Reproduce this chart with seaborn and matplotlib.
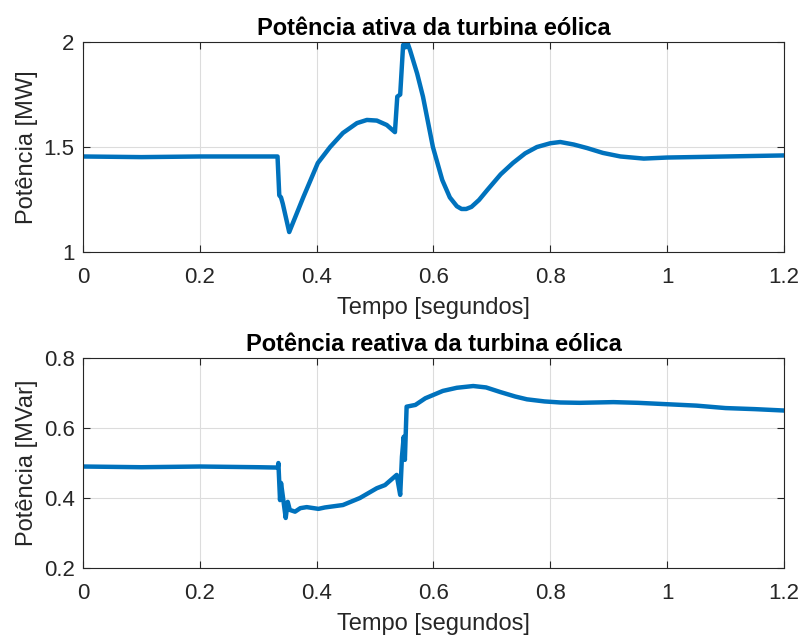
import numpy as np
import pandas as pd
import seaborn as sns
from matplotlib import pyplot as plt

# Potência ativa [MW]
t_ativa = [0, 0.1, 0.2, 0.3, 0.333, 0.336, 0.339, 0.342, 0.353, 0.377, 0.402, 0.423,
           0.445, 0.469, 0.486, 0.503, 0.52, 0.534, 0.538, 0.543, 0.548, 0.552, 0.555,
           0.56, 0.572, 0.582, 0.599, 0.615, 0.628, 0.64, 0.648, 0.656, 0.665, 0.678,
           0.692, 0.715, 0.736, 0.757, 0.777, 0.80, 0.817, 0.84, 0.863, 0.89, 0.92,
           0.96, 1.0, 1.1, 1.2]
p_ativa = [1.455, 1.452, 1.455, 1.455, 1.455, 1.27, 1.26, 1.23, 1.095, 1.26, 1.424, 1.50,
           1.567, 1.614, 1.629, 1.626, 1.605, 1.571, 1.74, 1.75, 1.986, 1.975, 2.0,
           1.96, 1.85, 1.74, 1.50, 1.343, 1.26, 1.218, 1.205, 1.205, 1.215, 1.248,
           1.295, 1.37, 1.424, 1.47, 1.50, 1.518, 1.524, 1.512, 1.495, 1.472, 1.455,
           1.445, 1.45, 1.455, 1.46]

# Potência reativa [MVar]
t_reativa = [0, 0.1, 0.2, 0.3, 0.3334, 0.3345, 0.3373, 0.339, 0.3425, 0.347, 0.3505, 0.354,
             0.363, 0.372, 0.383, 0.403, 0.414, 0.445, 0.474, 0.503, 0.517, 0.537, 0.543,
             0.546, 0.549, 0.551, 0.554, 0.569, 0.586, 0.616, 0.64, 0.668, 0.69, 0.714,
             0.74, 0.76, 0.79, 0.817, 0.85, 0.908, 0.95, 1.0, 1.05, 1.1, 1.15, 1.2]
q_reativa = [0.49, 0.488, 0.49, 0.488, 0.487, 0.50, 0.394, 0.443, 0.40, 0.343, 0.389, 0.366,
             0.361, 0.371, 0.374, 0.369, 0.373, 0.38, 0.40, 0.428, 0.437, 0.466, 0.409,
             0.518, 0.575, 0.509, 0.661, 0.666, 0.685, 0.706, 0.715, 0.72, 0.716, 0.703,
             0.69, 0.682, 0.676, 0.673, 0.672, 0.674, 0.672, 0.668, 0.664, 0.657, 0.654, 0.65]

df_ativa = pd.DataFrame({'t': t_ativa, 'p': p_ativa})
df_reativa = pd.DataFrame({'t': t_reativa, 'q': q_reativa})

sns.set_style('whitegrid')
plt.rcParams['font.family'] = ['Liberation Sans', 'DejaVu Sans']

fig = plt.figure(figsize=(8.05, 6.39), dpi=100)
ax1 = fig.add_axes([0.1031, 0.6056, 0.8708, 0.3286])
ax2 = fig.add_axes([0.1031, 0.1111, 0.8708, 0.3286])

blue = '#0072BD'
dark = '#262626'

sns.lineplot(data=df_ativa, x='t', y='p', ax=ax1, color=blue, linewidth=3.2,
             estimator=None, sort=False)
sns.lineplot(data=df_reativa, x='t', y='q', ax=ax2, color=blue, linewidth=3.2,
             estimator=None, sort=False)

setup = [
    (ax1, (1, 2), [1, 1.5, 2], ['1', '1.5', '2'], 'Potência [MW]',
     'Potência ativa da turbina eólica'),
    (ax2, (0.2, 0.8), [0.2, 0.4, 0.6, 0.8], ['0.2', '0.4', '0.6', '0.8'], 'Potência [MVar]',
     'Potência reativa da turbina eólica'),
]
for ax, ylim, yticks, ylabels, ylab, title in setup:
    ax.set_xlim(0, 1.2)
    ax.set_ylim(*ylim)
    ax.set_xticks([0, 0.2, 0.4, 0.6, 0.8, 1.0, 1.2])
    ax.set_xticklabels(['0', '0.2', '0.4', '0.6', '0.8', '1', '1.2'])
    ax.set_yticks(yticks)
    ax.set_yticklabels(ylabels)
    ax.grid(True, color='#dcdcdc', linewidth=0.8)
    for s in ax.spines.values():
        s.set_color(dark)
        s.set_linewidth(0.8)
    ax.tick_params(direction='in', length=5, width=0.8, color=dark, labelcolor=dark,
                   labelsize=16, top=True, right=True, bottom=True, left=True)
    ax.tick_params(axis='x', pad=11)
    ax.tick_params(axis='y', pad=6)
    ax.set_xlabel('Tempo [segundos]', fontsize=17, color=dark, labelpad=6)
    ax.set_ylabel(ylab, fontsize=17, color=dark, labelpad=4)
    ax.set_title(title, fontsize=17, fontweight='bold', color='black', pad=5)

fig.savefig('out.png', dpi=100)
